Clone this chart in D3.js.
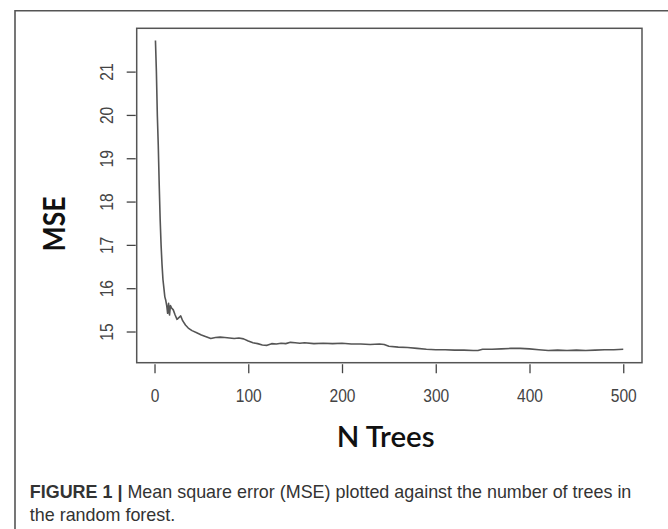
<!DOCTYPE html>
<html>
<head>
<meta charset="utf-8">
<script src="https://cdn.jsdelivr.net/npm/d3@7"></script>
<style>
  body { margin: 0; background: #fff; }
  svg { display: block; }
</style>
</head>
<body>
<div id="chart"></div>
<script>
// number of trees and the out-of-bag MSE
const nTrees = [1, 2, 3, 4, 5, 6, 7, 8, 9, 10, 11, 12, 13, 14, 15, 16, 17, 18, 20, 22, 24, 26, 28, 30, 33, 36, 40, 45, 50, 55, 60, 65, 70, 75, 80, 85, 90, 95, 100, 105, 110, 115, 120, 125, 130, 135, 140, 145, 150, 155, 160, 170, 180, 190, 200, 210, 220, 230, 240, 245, 250, 260, 270, 280, 290, 300, 310, 320, 330, 340, 345, 350, 360, 370, 380, 390, 400, 410, 420, 430, 440, 450, 460, 470, 480, 490, 500];
const mse = [21.72, 21.0, 20.0, 19.3, 18.4, 17.6, 17.0, 16.55, 16.2, 16.0, 15.8, 15.72, 15.6, 15.42, 15.65, 15.38, 15.6, 15.55, 15.5, 15.38, 15.28, 15.32, 15.36, 15.25, 15.15, 15.08, 15.02, 14.97, 14.92, 14.88, 14.84, 14.86, 14.87, 14.86, 14.85, 14.84, 14.85, 14.83, 14.78, 14.74, 14.72, 14.69, 14.68, 14.72, 14.71, 14.73, 14.72, 14.75, 14.74, 14.73, 14.74, 14.72, 14.73, 14.72, 14.73, 14.71, 14.71, 14.70, 14.71, 14.70, 14.66, 14.64, 14.63, 14.61, 14.59, 14.58, 14.58, 14.57, 14.57, 14.56, 14.56, 14.59, 14.59, 14.60, 14.61, 14.61, 14.60, 14.58, 14.56, 14.57, 14.56, 14.57, 14.56, 14.57, 14.58, 14.58, 14.59];

const xTicks = [0, 100, 200, 300, 400, 500];
const yTicks = [15, 16, 17, 18, 19, 20, 21];

const width = 668;
const height = 529;
const box = { left: 136.7, right: 642, top: 28.3, bottom: 362.7 };

const svg = d3
  .select("#chart")
  .append("svg")
  .attr("width", width)
  .attr("height", height);

svg.append("rect").attr("width", width).attr("height", height).attr("fill", "#fff");

// figure frame (only left and top edges show)
svg
  .append("path")
  .attr("d", "M15,529 L15,10.7 L668,10.7")
  .attr("fill", "none")
  .attr("stroke", "#555")
  .attr("stroke-width", 1.6);

const x = d3.scaleLinear().domain([-19, 520]).range([box.left, box.right]);
const y = d3.scaleLinear().domain([14.28, 22.0]).range([box.bottom, box.top]);

// plot box
svg
  .append("rect")
  .attr("x", box.left)
  .attr("y", box.top)
  .attr("width", box.right - box.left)
  .attr("height", box.bottom - box.top)
  .attr("fill", "none")
  .attr("stroke", "#555")
  .attr("stroke-width", 1.5);

// axes, R style: ticks outside the box, no domain line
const xAxis = svg
  .append("g")
  .attr("transform", "translate(0," + (box.bottom + 1.5) + ")")
  .call(d3.axisBottom(x).tickValues(xTicks).tickSize(9).tickPadding(20).tickSizeOuter(0));

const yAxis = svg
  .append("g")
  .attr("transform", "translate(" + (box.left - 1) + ",0)")
  .call(d3.axisLeft(y).tickValues(yTicks).tickSize(9).tickPadding(0).tickSizeOuter(0));

[xAxis, yAxis].forEach(function (g) {
  g.select(".domain").remove();
  g.selectAll(".tick line").attr("stroke", "#444").attr("stroke-width", 1.3);
});

xAxis
  .selectAll(".tick text")
  .attr("y", 0)
  .attr("dy", 0)
  .attr("transform", "translate(0,38) scale(0.82,1)")
  .attr("fill", "#444")
  .style("font-family", "'Liberation Sans', Arial, sans-serif")
  .style("font-size", "19px");

yAxis
  .selectAll(".tick text")
  .attr("x", 0)
  .attr("dy", 0)
  .attr("text-anchor", "middle")
  .attr("transform", "translate(-22.5,0) rotate(-90) scale(0.82,1)")
  .attr("fill", "#444")
  .style("font-family", "'Liberation Sans', Arial, sans-serif")
  .style("font-size", "19px");

// the curve
const points = nTrees.map(function (n, i) {
  return [n, mse[i]];
});

svg
  .append("path")
  .datum(points)
  .attr("fill", "none")
  .attr("stroke", "#555")
  .attr("stroke-width", 1.6)
  .attr("stroke-linejoin", "round")
  .attr("d", d3.line().x((d) => x(d[0])).y((d) => y(d[1])));

// squeeze a text node to a target width, keeping its anchor point
function fitWidth(node, target) {
  const w = node.node().getComputedTextLength();
  return target / w;
}

// axis titles
const xTitle = svg
  .append("text")
  .attr("text-anchor", "middle")
  .style("font-family", "Lato, 'Open Sans', sans-serif")
  .style("font-size", "28px")
  .style("font-weight", "600")
  .attr("fill", "#111")
  .text("N Trees");
const sx = fitWidth(xTitle, 98);
xTitle.attr("transform", "translate(385.6,447) scale(" + sx + ",1)");

const yTitle = svg
  .append("text")
  .attr("text-anchor", "middle")
  .style("font-family", "Lato, 'Open Sans', sans-serif")
  .style("font-size", "30px")
  .style("font-weight", "bold")
  .attr("fill", "#111")
  .text("MSE");
const sy = fitWidth(yTitle, 55);
yTitle.attr("transform", "translate(64.8,224) rotate(-90) scale(" + sy + ",1)");

// caption
const capFont = "'Liberation Sans', Arial, sans-serif";
const cap1 = svg
  .append("text")
  .attr("fill", "#333")
  .style("font-family", capFont)
  .style("font-size", "17.5px");
cap1.append("tspan").style("font-weight", "bold").text("FIGURE 1 | ");
cap1.append("tspan").text("Mean square error (MSE) plotted against the number of trees in");
const cs = fitWidth(cap1, 602);
cap1.attr("transform", "translate(29.8,497.5) scale(" + cs + ",1)");

svg
  .append("text")
  .attr("fill", "#333")
  .style("font-family", capFont)
  .style("font-size", "17.5px")
  .attr("transform", "translate(29.8,521) scale(" + cs + ",1)")
  .text("the random forest.");
</script>
</body>
</html>
